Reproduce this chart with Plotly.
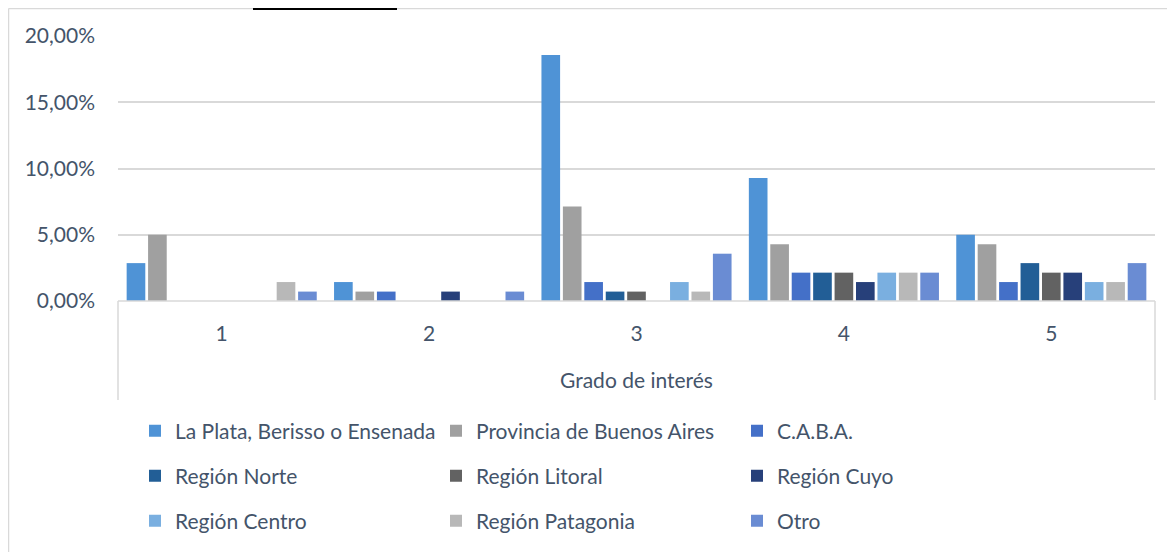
import plotly.graph_objects as go

# Grado de interés (1 a 5) por procedencia, en fracción
grados = ["1", "2", "3", "4", "5"]

la_plata = [0.0286, 0.0143, 0.1857, 0.0929, 0.0500]
provincia = [0.0500, 0.0071, 0.0714, 0.0429, 0.0429]
caba = [0.0, 0.0071, 0.0143, 0.0214, 0.0143]
norte = [0.0, 0.0, 0.0071, 0.0214, 0.0286]
litoral = [0.0, 0.0, 0.0071, 0.0214, 0.0214]
cuyo = [0.0, 0.0071, 0.0, 0.0143, 0.0214]
centro = [0.0, 0.0, 0.0143, 0.0214, 0.0143]
patagonia = [0.0143, 0.0, 0.0071, 0.0214, 0.0143]
otro = [0.0071, 0.0071, 0.0357, 0.0214, 0.0286]

series = [
    ("La Plata, Berisso o Ensenada", la_plata, "#4F93D6"),
    ("Provincia de Buenos Aires", provincia, "#A0A0A0"),
    ("C.A.B.A.", caba, "#4470C8"),
    ("Región Norte", norte, "#225E96"),
    ("Región Litoral", litoral, "#626262"),
    ("Región Cuyo", cuyo, "#27407A"),
    ("Región Centro", centro, "#7AAFE0"),
    ("Región Patagonia", patagonia, "#B8B8B8"),
    ("Otro", otro, "#6A8CD3"),
]

# la página deja 8px de margen en el body
OFF = 8
W, H = 1175 - OFF, 552 - OFF
L, R, T, B = 118 - OFF, 20, 36 - OFF, 251
pw = W - L - R
ph = H - T - B

txt = "#44546A"
line = "#D9D9D9"
font_family = "Lato, 'Open Sans', sans-serif"
fs = 21


def px_x(p):
    # coordenada de pantalla -> paper
    return (p - OFF - L) / pw


def px_y(p):
    return (H - B - (p - OFF)) / ph


# una leyenda por fila (3 filas de 3 elementos)
legend_ids = ["legend", "legend2", "legend3"]
row_y = [431, 476, 521]

fig = go.Figure()
for i, (name, vals, col) in enumerate(series):
    fig.add_trace(go.Bar(x=grados, y=vals, name=name,
                         legend=legend_ids[i // 3],
                         marker=dict(color=col, line=dict(width=0))))

shapes = [
    # caja del eje de categorías
    dict(type="line", xref="paper", yref="paper", x0=0, x1=1, y0=0, y1=0,
         line=dict(color=line, width=1.5)),
    dict(type="line", xref="paper", yref="paper", x0=0, x1=0, y0=0, y1=px_y(400),
         line=dict(color=line, width=1.5)),
    dict(type="line", xref="paper", yref="paper", x0=1, x1=1, y0=0, y1=px_y(400),
         line=dict(color=line, width=1.5)),
    # borde del área del gráfico
    dict(type="line", xref="paper", yref="paper", x0=px_x(8.5), x1=px_x(8.5),
         y0=px_y(8.5), y1=px_y(560), line=dict(color=line, width=1.5)),
    dict(type="line", xref="paper", yref="paper", x0=px_x(8.5), x1=px_x(1180),
         y0=px_y(8.5), y1=px_y(8.5), line=dict(color=line, width=1.5)),
    # subrayado del título recortado
    dict(type="line", xref="paper", yref="paper", x0=px_x(253), x1=px_x(397),
         y0=px_y(9), y1=px_y(9), line=dict(color="black", width=2)),
]

legends = {}
for lid, ry in zip(legend_ids, row_y):
    legends[lid] = dict(orientation="h", x=px_x(135), y=px_y(ry),
                        xanchor="left", yanchor="middle",
                        entrywidth=256, entrywidthmode="pixels",
                        font=dict(size=fs, color=txt), itemclick=False,
                        traceorder="normal", bgcolor="rgba(0,0,0,0)")

fig.update_layout(
    width=W, height=H,
    margin=dict(l=L, r=R, t=T, b=B, autoexpand=False),
    paper_bgcolor="white", plot_bgcolor="white",
    font=dict(family=font_family, size=fs, color=txt),
    separators=",.",
    barmode="group",
    bargap=0.07,
    bargroupgap=0.13,
    showlegend=True,
    shapes=shapes,
    **legends,
)

fig.update_yaxes(range=[0, 0.2], dtick=0.05, tickformat=".2%",
                 showgrid=True, gridcolor=line, gridwidth=1.5,
                 zeroline=False, showline=False, ticks="",
                 ticklabelstandoff=22, tickfont=dict(size=fs, color=txt))
fig.update_xaxes(showgrid=False, showline=False, zeroline=False, ticks="",
                 ticklabelstandoff=18, tickfont=dict(size=fs, color=txt),
                 title=dict(text="Grado de interés", standoff=29,
                            font=dict(size=fs, color=txt)))

fig.write_html("out.html")
